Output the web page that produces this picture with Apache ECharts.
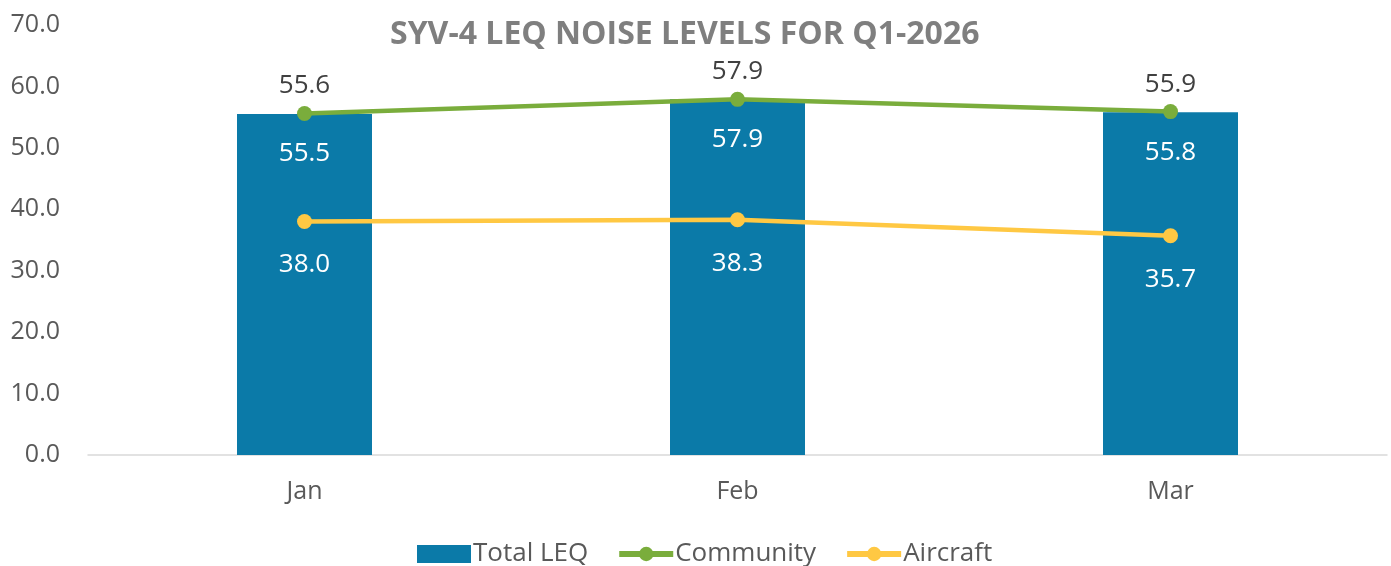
<!DOCTYPE html>
<html>
<head>
<meta charset="utf-8">
<script src="https://cdn.jsdelivr.net/npm/echarts@6/dist/echarts.min.js"></script>
<style>
  html, body { margin: 0; padding: 0; background: #fff; }
  #chart { width: 1391px; height: 566px; }
</style>
</head>
<body>
<div id="chart"></div>
<script>
// Monthly LEQ noise levels (dB) for station SYV-4, Q1 2026
const months = ['Jan', 'Feb', 'Mar'];
const totalLeq = [55.5, 57.9, 55.8];
const community = [55.6, 57.9, 55.9];
const aircraft = [38.0, 38.3, 35.7];

const FONT = '"Open Sans", "Noto Sans", sans-serif';
const fmt = p => Number(p.value).toFixed(1);

const chart = echarts.init(document.getElementById('chart'));
chart.setOption({
  animation: false,
  title: {
    text: 'SYV-4 LEQ NOISE LEVELS FOR Q1-2026',
    left: 385,
    top: 14,
    textStyle: { fontFamily: FONT, fontSize: 32, fontWeight: 'bold', color: '#7f7f7f' }
  },
  legend: {
    top: 536,
    left: 412,
    itemGap: 28,
    itemWidth: 54,
    itemHeight: 18,
    textStyle: { fontFamily: FONT, fontSize: 26, color: '#595959', padding: [0, 0, 0, -3] },
    data: [
      { name: 'Total LEQ', icon: 'rect' },
      { name: 'Community', lineStyle: { width: 6 } },
      { name: 'Aircraft', lineStyle: { width: 6 } }
    ]
  },
  grid: { left: 88, right: 4, top: 25, bottom: 111 },
  xAxis: {
    type: 'category',
    data: months,
    axisLine: { lineStyle: { color: '#d9d9d9', width: 1.5 } },
    axisTick: { show: false },
    axisLabel: { fontFamily: FONT, fontSize: 25, color: '#595959', margin: 24 }
  },
  yAxis: {
    type: 'value',
    min: 0,
    max: 70,
    interval: 10,
    splitLine: { show: false },
    axisLine: { show: false },
    axisTick: { show: false },
    axisLabel: { fontFamily: FONT, fontSize: 25, color: '#595959', margin: 28, formatter: v => v.toFixed(1) }
  },
  series: [
    {
      name: 'Total LEQ',
      type: 'bar',
      data: totalLeq,
      barWidth: 135,
      itemStyle: { color: '#0b7aa8' },
      label: {
        show: true, position: 'insideTop', distance: 27,
        fontFamily: FONT, fontSize: 26, color: '#ffffff', formatter: fmt
      },
      z: 1
    },
    {
      name: 'Community',
      type: 'line',
      data: community,
      symbol: 'circle',
      symbolSize: 15,
      lineStyle: { color: '#7aad3c', width: 4.5 },
      itemStyle: { color: '#7aad3c' },
      label: {
        show: true, position: 'top', distance: 7,
        fontFamily: FONT, fontSize: 26, color: '#404040', formatter: fmt
      },
      z: 3
    },
    {
      name: 'Aircraft',
      type: 'line',
      data: aircraft,
      symbol: 'circle',
      symbolSize: 15,
      lineStyle: { color: '#ffc843', width: 4.5 },
      itemStyle: { color: '#ffc843' },
      label: {
        show: true, position: 'bottom', distance: 23,
        fontFamily: FONT, fontSize: 26, color: '#ffffff', formatter: fmt
      },
      z: 3
    }
  ]
});
</script>
</body>
</html>
